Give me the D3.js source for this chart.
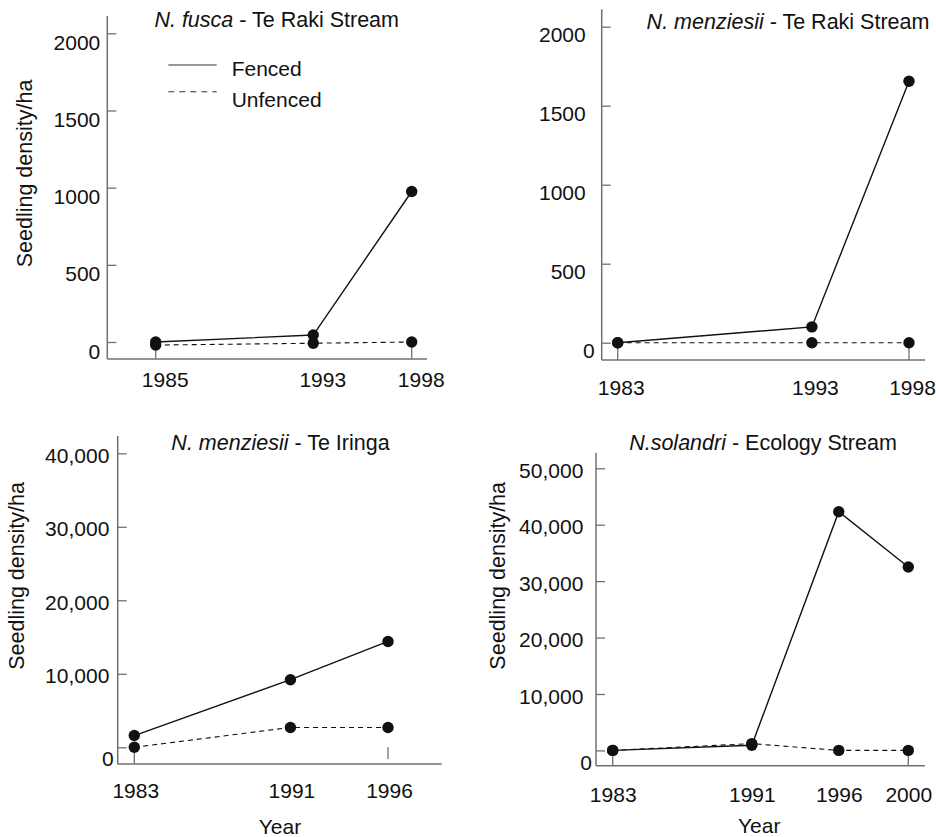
<!DOCTYPE html>
<html>
<head>
<meta charset="utf-8">
<script src="https://cdn.jsdelivr.net/npm/d3@7"></script>
<style>
  html, body { margin: 0; padding: 0; background: #fff; }
  svg { display: block; font-family: "Liberation Sans", Arial, Helvetica, sans-serif; }
</style>
</head>
<body>
<svg id="chart" width="936" height="837"></svg>
<script>
// Seedling density (per ha) in fenced and unfenced plots

// N. fusca - Te Raki Stream
const fuscaRakiYears = [1985, 1993, 1998];
const fuscaRakiFenced = [0, 45, 975];
const fuscaRakiUnfenced = [-20, -8, 0];

// N. menziesii - Te Raki Stream
const menziesiiRakiYears = [1983, 1993, 1998];
const menziesiiRakiFenced = [0, 100, 1655];
const menziesiiRakiUnfenced = [0, 0, 0];

// N. menziesii - Te Iringa
const menziesiiIringaYears = [1983, 1991, 1996];
const menziesiiIringaFenced = [1600, 9200, 14400];
const menziesiiIringaUnfenced = [0, 2700, 2700];

// N. solandri - Ecology Stream
const solandriEcologyYears = [1983, 1991, 1996, 2000];
const solandriEcologyFenced = [0, 900, 42300, 32500];
const solandriEcologyUnfenced = [0, 1200, 0, 0];

// Y-axis tick values
const rakiTicks = [0, 500, 1000, 1500, 2000];
const iringaTicks = [0, 10000, 20000, 30000, 40000];
const ecologyTicks = [0, 10000, 20000, 30000, 40000, 50000];

const seriesNames = ["Fenced", "Unfenced"];
const yAxisTitle = "Seedling density/ha";
const xAxisTitle = "Year";

const svg = d3.select("#chart");
const AXIS = "#707070";
const INK = "#111";
const FONT = 21;
const TITLE_FONT = 21.5;

const panels = [
  {
    italic: "N. fusca", rest: " - Te Raki Stream",
    years: fuscaRakiYears, fenced: fuscaRakiFenced, unfenced: fuscaRakiUnfenced,
    ticks: rakiTicks, fmt: d3.format("d"),
    xRange: [155.7, 411.7], yZero: 342, yTopTick: 33.3,
    axisX: 107.3, axisTop: 16, axisY: 359, axisRight: 427,
    labelGap: 7, labelDy: 8.5, zeroGap: 7, zeroDy: 8.5,
    xPad: 14, xDx: 9,
    title: [276.7, 20], yTitle: [25, 173.5], xTitle: null,
    legend: true, lastTickGap: 0
  },
  {
    italic: "N. menziesii", rest: " - Te Raki Stream",
    years: menziesiiRakiYears, fenced: menziesiiRakiFenced, unfenced: menziesiiRakiUnfenced,
    ticks: rakiTicks, fmt: d3.format("d"),
    xRange: [617.7, 909], yZero: 342.7, yTopTick: 26.7,
    axisX: 601.7, axisTop: 9.3, axisY: 360, axisRight: 925,
    labelGap: 16, labelDy: 7.5, zeroGap: 7, zeroDy: 7.5,
    xPad: 21, xDx: 3,
    title: [788, 21.7], yTitle: null, xTitle: null,
    legend: false, lastTickGap: 0
  },
  {
    italic: "N. menziesii", rest: " - Te Iringa",
    years: menziesiiIringaYears, fenced: menziesiiIringaFenced, unfenced: menziesiiIringaUnfenced,
    ticks: iringaTicks, fmt: d3.format(","),
    xRange: [134.3, 388], yZero: 747.3, yTopTick: 453.3,
    axisX: 117.7, axisTop: 436, axisY: 764, axisRight: 441.7,
    labelGap: 8.4, labelDy: 1.5, zeroGap: 4, zeroDy: 11,
    xPad: 20, xDx: 1,
    title: [280.5, 443.3], yTitle: [16.7, 576], xTitle: [280, 826.7],
    legend: false, lastTickGap: 5
  },
  {
    italic: "N.solandri", rest: " - Ecology Stream",
    years: solandriEcologyYears, fenced: solandriEcologyFenced, unfenced: solandriEcologyUnfenced,
    ticks: ecologyTicks, fmt: d3.format(","),
    xRange: [612.7, 908.3], yZero: 750.4, yTopTick: 468.3,
    axisX: 596, axisTop: 452.7, axisY: 765.7, axisRight: 925,
    labelGap: 12.7, labelDy: 1.7, zeroGap: 4, zeroDy: 11.3,
    xPad: 22, xDx: 0,
    title: [763, 442.7], yTitle: [498.3, 575.8], xTitle: [759.2, 825],
    legend: false, lastTickGap: 0
  }
];

panels.forEach(p => {
  const g = svg.append("g");
  const first = p.years[0], last = p.years[p.years.length - 1];
  const x = d3.scaleLinear().domain([first, last]).range(p.xRange);
  const topTick = p.ticks[p.ticks.length - 1];
  const y = d3.scaleLinear().domain([0, topTick]).range([p.yZero, p.yTopTick]);

  // axis lines
  g.append("line")
    .attr("x1", p.axisX).attr("x2", p.axisX)
    .attr("y1", p.axisTop).attr("y2", p.axisY)
    .attr("stroke", AXIS).attr("stroke-width", 1.5);
  g.append("line")
    .attr("x1", p.axisX).attr("x2", p.axisRight)
    .attr("y1", p.axisY).attr("y2", p.axisY)
    .attr("stroke", AXIS).attr("stroke-width", 1.5);

  // y ticks (pointing into the plot) and labels
  const yAxis = d3.axisLeft(y)
    .tickValues(p.ticks)
    .tickFormat(p.fmt)
    .tickSizeInner(-9)
    .tickSizeOuter(0)
    .tickPadding(p.labelGap);
  const ya = g.append("g")
    .attr("transform", `translate(${p.axisX},0)`)
    .call(yAxis);
  ya.select(".domain").remove();
  ya.selectAll(".tick line").attr("stroke", AXIS).attr("stroke-width", 1.3);
  ya.selectAll(".tick text")
    .attr("font-size", FONT)
    .attr("font-family", null)
    .attr("fill", INK)
    .attr("x", d => -(d === 0 ? p.zeroGap : p.labelGap))
    .attr("dy", null)
    .attr("dominant-baseline", "central")
    .attr("transform", d => `translate(0,${d === 0 ? p.zeroDy : p.labelDy})`);

  // x labels
  const xAxis = d3.axisBottom(x)
    .tickValues(p.years)
    .tickFormat(d3.format("d"))
    .tickSize(0)
    .tickPadding(p.xPad - 1);
  const xa = g.append("g")
    .attr("transform", `translate(0,${p.axisY})`)
    .call(xAxis);
  xa.select(".domain").remove();
  xa.selectAll(".tick text")
    .attr("font-size", FONT)
    .attr("font-family", null)
    .attr("fill", INK)
    .attr("dx", p.xDx);

  // short year ticks at the first and last sampling years
  [first, last].forEach((yr, i) => {
    g.append("line")
      .attr("x1", x(yr)).attr("x2", x(yr))
      .attr("y1", y(0)).attr("y2", p.axisY - (i === 1 ? p.lastTickGap : 0))
      .attr("stroke", AXIS).attr("stroke-width", 1.3);
  });

  // series lines
  const line = d3.line().x(d => x(d[0])).y(d => y(d[1]));
  const unf = p.years.map((yr, i) => [yr, p.unfenced[i]]);
  const fen = p.years.map((yr, i) => [yr, p.fenced[i]]);
  g.append("path").datum(unf).attr("d", line)
    .attr("fill", "none").attr("stroke", INK).attr("stroke-width", 1.1)
    .attr("stroke-dasharray", "5,4");
  g.append("path").datum(fen).attr("d", line)
    .attr("fill", "none").attr("stroke", INK).attr("stroke-width", 1.4);

  // markers
  g.selectAll("circle.u").data(unf).enter().append("circle")
    .attr("class", "u")
    .attr("cx", d => x(d[0])).attr("cy", d => y(d[1])).attr("r", 5.7)
    .attr("fill", INK);
  g.selectAll("circle.f").data(fen).enter().append("circle")
    .attr("class", "f")
    .attr("cx", d => x(d[0])).attr("cy", d => y(d[1])).attr("r", 5.7)
    .attr("fill", INK);

  // panel title
  const t = g.append("text")
    .attr("x", p.title[0]).attr("y", p.title[1])
    .attr("text-anchor", "middle")
    .attr("dominant-baseline", "central")
    .attr("font-size", TITLE_FONT).attr("fill", INK);
  t.append("tspan").attr("font-style", "italic").text(p.italic);
  t.append("tspan").text(p.rest);

  // axis titles
  if (p.yTitle) {
    g.append("text")
      .attr("transform", `translate(${p.yTitle[0]},${p.yTitle[1]}) rotate(-90)`)
      .attr("text-anchor", "middle")
      .attr("dominant-baseline", "central")
      .attr("font-size", TITLE_FONT).attr("fill", INK)
      .text(yAxisTitle);
  }
  if (p.xTitle) {
    g.append("text")
      .attr("x", p.xTitle[0]).attr("y", p.xTitle[1])
      .attr("text-anchor", "middle")
      .attr("dominant-baseline", "central")
      .attr("font-size", FONT).attr("fill", INK)
      .text(xAxisTitle);
  }

  // legend
  if (p.legend) {
    const lg = g.append("g");
    const rows = [
      { name: seriesNames[0], ly: 65, ty: 68.3, dash: null },
      { name: seriesNames[1], ly: 91.7, ty: 99.3, dash: "6,5" }
    ];
    rows.forEach(r => {
      lg.append("line")
        .attr("x1", 168.3).attr("x2", 216.7)
        .attr("y1", r.ly).attr("y2", r.ly)
        .attr("stroke", "#333").attr("stroke-width", 1.1)
        .attr("stroke-dasharray", r.dash);
      lg.append("text")
        .attr("x", 231.7).attr("y", r.ty)
        .attr("dominant-baseline", "central")
        .attr("font-size", FONT).attr("fill", INK)
        .text(r.name);
    });
  }
});
</script>
</body>
</html>
